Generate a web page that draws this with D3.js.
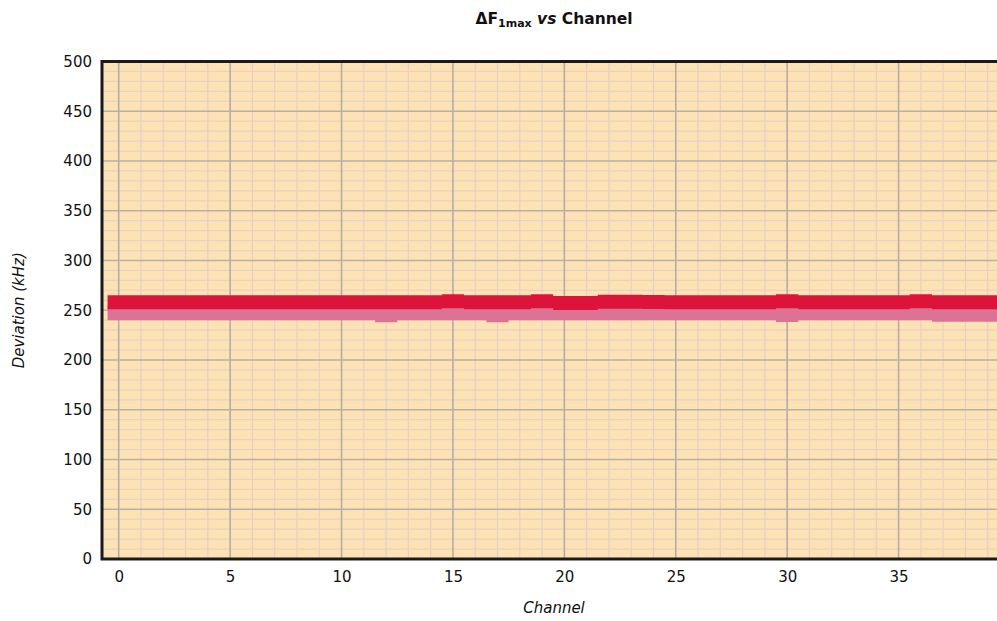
<!DOCTYPE html>
<html>
<head>
<meta charset="utf-8">
<script src="https://cdn.jsdelivr.net/npm/d3@7/dist/d3.min.js"></script>
<style>
  html, body { margin: 0; padding: 0; background: #ffffff; overflow: hidden; }
  svg { display: block; }
  text { font-family: "DejaVu Sans", Verdana, sans-serif; fill: #111; }
</style>
</head>
<body>
<svg id="chart" width="997" height="621"></svg>
<script>
// Channel numbers (categories on the x axis)
const channels = [0, 1, 2, 3, 4, 5, 6, 7, 8, 9, 10, 11, 12, 13, 14, 15, 16, 17, 18, 19,
                  20, 21, 22, 23, 24, 25, 26, 27, 28, 29, 30, 31, 32, 33, 34, 35, 36, 37, 38, 39];

// Upper deviation trace (kHz), one value per channel
const deviationHigh = [258, 258, 258, 258, 258, 258, 258, 258, 258, 258,
                       258, 258, 258, 258, 258, 259, 258, 258, 258, 259,
                       257.4, 257.4, 258.5, 258.5, 258.3, 258, 258, 258, 258, 258,
                       259, 258, 258, 258, 258, 258, 259, 258, 258, 258];

// Lower deviation trace (kHz), one value per channel
const deviationLow = [247, 247, 247, 247, 247, 247, 247, 247, 247, 247,
                      247, 247, 245, 247, 247, 247, 247, 245, 247, 247,
                      247, 247, 247, 247, 247, 247, 247, 247, 247, 247,
                      245.2, 247, 247, 247, 247, 247, 247, 245.4, 245.4, 245.4];

// Axis tick labels
const xTickValues = [0, 5, 10, 15, 20, 25, 30, 35];
const yTickValues = [0, 50, 100, 150, 200, 250, 300, 350, 400, 450, 500];
const yMinorValues = [10, 20, 30, 40, 60, 70, 80, 90, 110, 120, 130, 140, 160, 170, 180, 190,
                      210, 220, 230, 240, 260, 270, 280, 290, 310, 320, 330, 340, 360, 370, 380, 390,
                      410, 420, 430, 440, 460, 470, 480, 490];

const svg = d3.select("#chart");

const plot = { left: 102, top: 61.5, right: 1010, bottom: 559 };

const x = d3.scaleLinear().domain([-0.75, 40]).range([plot.left, plot.right]);
const y = d3.scaleLinear().domain([0, 500]).range([plot.bottom, plot.top]);

// Plot background
svg.append("rect")
  .attr("x", plot.left).attr("y", plot.top)
  .attr("width", plot.right - plot.left).attr("height", plot.bottom - plot.top)
  .attr("fill", "#fde3b4");

const grid = svg.append("g");

// Minor grid: every channel, every 10 kHz
grid.selectAll("line.vminor").data(channels.filter(c => c % 5 !== 0)).join("line")
  .attr("x1", d => x(d)).attr("x2", d => x(d))
  .attr("y1", plot.top).attr("y2", plot.bottom)
  .attr("stroke", "#e4cfc6").attr("stroke-width", 1.2);
grid.selectAll("line.hminor").data(yMinorValues).join("line")
  .attr("y1", d => y(d)).attr("y2", d => y(d))
  .attr("x1", plot.left).attr("x2", plot.right)
  .attr("stroke", "#e8d1c6").attr("stroke-width", 1.2);

// Major grid: every 5 channels, every 50 kHz
grid.selectAll("line.vmajor").data(xTickValues).join("line")
  .attr("x1", d => x(d)).attr("x2", d => x(d))
  .attr("y1", plot.top).attr("y2", plot.bottom)
  .attr("stroke", "#b5aca8").attr("stroke-width", 1.6);
grid.selectAll("line.hmajor").data(yTickValues.slice(1, -1)).join("line")
  .attr("y1", d => y(d)).attr("y2", d => y(d))
  .attr("x1", plot.left).attr("x2", plot.right)
  .attr("stroke", "#b8aeaa").attr("stroke-width", 1.6);

// Stepped trace: each channel is a flat segment one channel wide
function stepPath(values) {
  const p = d3.path();
  values.forEach((v, i) => {
    const c = channels[i];
    p.moveTo(x(c - 0.5), y(v));
    p.lineTo(x(c + 0.5), y(v));
  });
  return p.toString();
}

svg.append("path")
  .attr("d", stepPath(deviationLow))
  .attr("fill", "none")
  .attr("stroke", "#dc7294")
  .attr("stroke-width", 14)
  .attr("stroke-linecap", "butt");

svg.append("path")
  .attr("d", stepPath(deviationHigh))
  .attr("fill", "none")
  .attr("stroke", "#de1339")
  .attr("stroke-width", 14)
  .attr("stroke-linecap", "butt");

// Frame (left, top, bottom)
svg.append("path")
  .attr("d", `M${plot.right},${plot.top}H${plot.left}V${plot.bottom}H${plot.right}`)
  .attr("fill", "none")
  .attr("stroke", "#1a1a1a")
  .attr("stroke-width", 3);

// Axes: labels only
const xAxis = d3.axisBottom(x).tickValues(xTickValues).tickSize(0).tickPadding(12);
svg.append("g")
  .attr("transform", `translate(0,${plot.bottom})`)
  .call(xAxis)
  .call(g => g.select(".domain").remove())
  .call(g => g.selectAll("text").attr("font-size", 15).attr("font-family", "DejaVu Sans").attr("fill", "#111"));

const yAxis = d3.axisLeft(y).tickValues(yTickValues).tickSize(0).tickPadding(10);
svg.append("g")
  .attr("transform", `translate(${plot.left},0)`)
  .call(yAxis)
  .call(g => g.select(".domain").remove())
  .call(g => g.selectAll("text").attr("font-size", 15).attr("font-family", "DejaVu Sans").attr("fill", "#111"));

// Title: ΔF1max vs Channel
const title = svg.append("text")
  .attr("x", 554).attr("y", 24)
  .attr("text-anchor", "middle")
  .attr("font-weight", "bold")
  .attr("font-size", 15.5);
title.append("tspan").text("ΔF");
title.append("tspan").attr("font-size", 11).attr("dy", 3).text("1max");
title.append("tspan").attr("dy", -3).attr("font-style", "italic").text(" vs ");
title.append("tspan").text("Channel");

// Axis titles
svg.append("text")
  .attr("x", 554).attr("y", 613)
  .attr("text-anchor", "middle")
  .attr("font-style", "italic")
  .attr("font-size", 15)
  .text("Channel");

svg.append("text")
  .attr("transform", `translate(24,${(plot.top + plot.bottom) / 2}) rotate(-90)`)
  .attr("text-anchor", "middle")
  .attr("font-style", "italic")
  .attr("font-size", 15)
  .text("Deviation (kHz)");
</script>
</body>
</html>
